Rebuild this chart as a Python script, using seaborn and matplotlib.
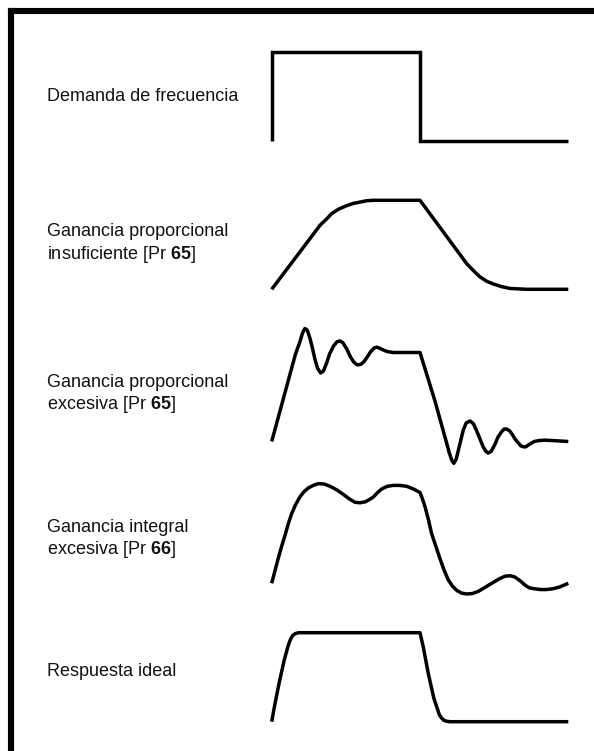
import numpy as np
import pandas as pd
import matplotlib
matplotlib.use("Agg")
import matplotlib.pyplot as plt
from matplotlib.lines import Line2D
import seaborn as sns

# etiquetas de cada fila
labels = [
    "Demanda de frecuencia",
    "Ganancia proporcional\ninsuficiente [Pr $\\mathbf{65}$]",
    "Ganancia proporcional\nexcesiva [Pr $\\mathbf{65}$]",
    "Ganancia integral\nexcesiva [Pr $\\mathbf{66}$]",
    "Respuesta ideal",
]

# curvas: tiempo (0-100) y nivel (0 = bajo, 1 = demanda)
t_demanda = [0, 0, 50, 50, 100]
y_demanda = [0, 1, 1, 0, 0]

t_insuf = [0, 16.3, 18.5, 20.2, 22.5, 25.3, 27.5, 29.8, 32.0, 34.3, 50.0,
           65.7, 68.0, 70.2, 72.5, 74.7, 77.5, 80.3, 83.0, 86.0, 100]
y_insuf = [0, 0.72, 0.79, 0.85, 0.90, 0.94, 0.965, 0.98, 0.995, 1.0, 1.0,
           0.29, 0.21, 0.14, 0.09, 0.06, 0.03, 0.01, 0.005, 0, 0]

t_exc_p = [0, 4, 8, 9.5, 10.4, 11.2, 12.0, 12.9, 13.8, 14.6, 15.5, 16.5,
           17.4, 18.5, 19.6, 20.8, 22.0, 23.0, 24.0, 25.3, 26.4, 27.5, 28.4,
           29.2, 30.2, 31.2, 32.2, 33.4, 34.5, 35.4, 36.3, 37.5, 39.0, 41.0,
           44.0, 50.0, 55.0, 59.0, 59.8, 60.7, 61.4, 62.2, 63.5, 64.6, 65.6,
           66.9, 68.0, 69.1, 70.2, 71.3, 72.2, 73.0, 74.0, 75.3, 76.3, 77.5,
           78.4, 79.2, 80.2, 81.1, 82.0, 83.0, 84.0, 85.0, 85.7, 86.5, 87.5,
           88.5, 90.0, 92.0, 95.0, 100]
y_exc_p = [0, 0.49, 0.98, 1.12, 1.22, 1.27, 1.25, 1.16, 1.04, 0.92, 0.82, 0.77,
           0.79, 0.88, 0.99, 1.07, 1.12, 1.13, 1.11, 1.04, 0.96, 0.90, 0.87,
           0.86, 0.87, 0.90, 0.95, 1.01, 1.05, 1.06, 1.05, 1.03, 1.01, 1.0,
           1.0, 1.0, 0.46, -0.02, -0.12, -0.21, -0.245, -0.2, -0.02, 0.13, 0.21,
           0.23, 0.20, 0.12, 0.03, -0.06, -0.11, -0.13, -0.11, -0.03, 0.05, 0.11,
           0.14, 0.14, 0.12, 0.08, 0.03, -0.01, -0.05, -0.06, -0.06, -0.04, -0.02,
           0.0, 0.01, 0.015, 0.01, 0.0]

t_exc_i = [0, 1.1, 2.2, 3.3, 4.5, 5.6, 6.7, 8.0, 9.5, 10.9, 12.3, 14.0, 15.7,
           17.7, 19.7, 21.9, 24.1, 26.1, 28.1, 29.8, 31.5, 32.9, 34.3, 35.7,
           37.1, 39.0, 41.0, 43.2, 45.5, 47.8, 50.0, 50.8, 51.7, 52.8, 53.9,
           55.3, 56.7, 58.1, 59.5, 60.9, 62.4, 64.0, 65.7, 67.7, 69.7, 72.2,
           74.7, 76.7, 78.7, 80.4, 82.0, 83.7, 85.4, 86.8, 88.2, 90.5, 92.7,
           95.0, 97.2, 100]
y_exc_i = [0, 0.14, 0.28, 0.41, 0.54, 0.67, 0.78, 0.88, 0.97, 1.03, 1.07, 1.10,
           1.12, 1.115, 1.09, 1.05, 1.0, 0.95, 0.91, 0.905, 0.915, 0.94, 0.97,
           1.02, 1.06, 1.09, 1.10, 1.10, 1.09, 1.06, 1.02, 0.95, 0.86, 0.72, 0.56,
           0.42, 0.28, 0.15, 0.04, -0.03, -0.08, -0.11, -0.12, -0.115, -0.09,
           -0.04, 0.01, 0.05, 0.08, 0.085, 0.07, 0.03, -0.02, -0.05, -0.06,
           -0.07, -0.07, -0.06, -0.04, 0.0]

t_ideal = [0, 1.1, 2.6, 4.2, 5.6, 6.4, 7.1, 8.0, 9.0, 50.0, 51.1, 52.8, 54.7,
           56.5, 57.3, 58.1, 59.0, 60.1, 100]
y_ideal = [0, 0.2, 0.45, 0.69, 0.86, 0.93, 0.97, 0.99, 1.0, 1.0, 0.84, 0.54,
           0.26, 0.08, 0.04, 0.015, 0.005, 0, 0]

curves = [(t_demanda, y_demanda), (t_insuf, y_insuf), (t_exc_p, y_exc_p),
          (t_exc_i, y_exc_i), (t_ideal, y_ideal)]

# posicion vertical (px desde arriba) del nivel 0 y del texto de cada fila
base_px = [140.7, 289.3, 441.5, 583.3, 721.7]
label_px = [96.7, 244, 394, 540, 672]

W, H = 594, 751
unit = 89.0           # px por unidad de nivel
x0, x1 = 271.7, 568.3  # extremos horizontales de las curvas

sns.set_theme(style="white")
plt.rcParams['font.family'] = ['Liberation Sans', 'DejaVu Sans']
plt.rcParams['mathtext.fontset'] = 'custom'
plt.rcParams['mathtext.rm'] = 'Liberation Sans'
plt.rcParams['mathtext.bf'] = 'Liberation Sans:bold'

fig = plt.figure(figsize=(W / 100, H / 100), dpi=100)
fig.patch.set_facecolor("white")

for i, (t, y) in enumerate(curves):
    lo, hi = -0.4, 1.4
    bottom = 1 - (base_px[i] - lo * unit) / H
    height = (hi - lo) * unit / H
    ax = fig.add_axes([x0 / W, bottom, (x1 - x0) / W, height])
    df = pd.DataFrame({"t": t, "nivel": y})
    sns.lineplot(data=df, x="t", y="nivel", sort=False, estimator=None,
                 color="black", linewidth=2.5, ax=ax)
    for ln in ax.lines:
        ln.set_clip_on(False)
        ln.set_solid_capstyle("butt")
        ln.set_solid_joinstyle("miter" if i == 0 else "round")
    ax.set_xlim(0, 100)
    ax.set_ylim(lo, hi)
    ax.axis("off")
    ax.patch.set_alpha(0)

    fig.text(47 / W, 1 - label_px[i] / H, labels[i], ha="left", va="center",
             fontsize=13, color="#111111", linespacing=1.2)

# marco superior e izquierdo
yb = 1 - 11 / H
xb = 11 / W
fig.add_artist(Line2D([xb, xb], [yb, 0], transform=fig.transFigure,
                      color="black", linewidth=4.4, solid_capstyle="projecting"))
fig.add_artist(Line2D([xb, 1], [yb, yb], transform=fig.transFigure,
                      color="black", linewidth=4.4, solid_capstyle="projecting"))

fig.savefig("out.png", dpi=100)
